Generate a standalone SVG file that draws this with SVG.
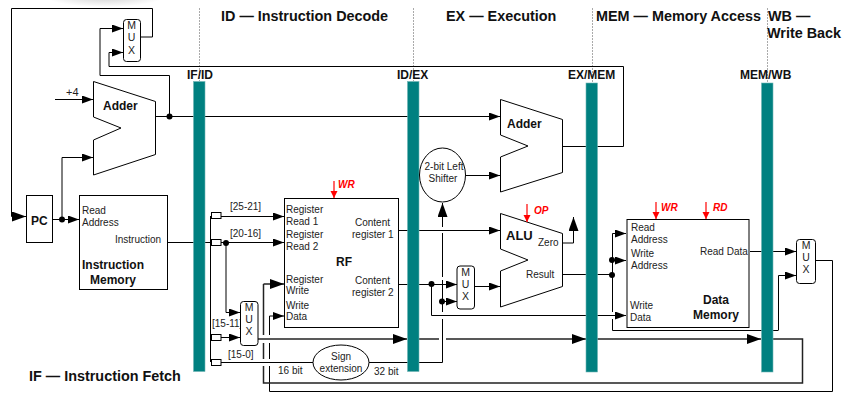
<svg xmlns="http://www.w3.org/2000/svg" width="854" height="414" viewBox="0 0 854 414">
<defs>
<marker id="a" markerUnits="userSpaceOnUse" markerWidth="12" markerHeight="9" refX="11" refY="4" orient="auto"><path d="M0,0L11,4L0,8z" fill="#000"/></marker>
<marker id="b" markerUnits="userSpaceOnUse" markerWidth="14" markerHeight="11" refX="14" refY="5" orient="auto"><path d="M0,0L14,5L0,10z" fill="#000"/></marker>
<marker id="r" markerUnits="userSpaceOnUse" markerWidth="8" markerHeight="8" refX="7" refY="3.5" orient="auto"><path d="M0,0L7,3.5L0,7z" fill="#f00"/></marker>
<radialGradient id="smudge"><stop offset="0" stop-color="#cfcfcf"/><stop offset="1" stop-color="#fff"/></radialGradient>
</defs>
<style>
text{font-family:"Liberation Sans",Arial,sans-serif;font-size:10px;fill:#222}
.t{font-size:14.4px;font-weight:bold;fill:#111}
.b{font-size:12px;font-weight:bold;fill:#111}
.h{font-size:12px;font-weight:bold;fill:#111}
.m{font-size:10.5px;text-anchor:middle}
.c{text-anchor:middle}
.w{font-size:10px;font-weight:bold;font-style:italic;fill:#f00}
.n{fill:#fff;stroke:#000;stroke-width:1}
.bar{fill:#008080;stroke:#6fb5b5;stroke-width:.6}
.l{fill:none;stroke:#000;stroke-width:1}
.k{fill:none;stroke:#222;stroke-width:1.5}
.g{fill:none;stroke:#aaa;stroke-width:1;stroke-dasharray:2 1}
.ar{marker-end:url(#a)}
.ab{marker-end:url(#b)}
.rl{fill:none;stroke:#f00;stroke-width:1.2;marker-end:url(#r)}
</style>
<rect width="854" height="414" fill="#fff"/>
<ellipse cx="105" cy="-4" rx="60" ry="11" fill="url(#smudge)"/>

<g id="stage-labels">
<text class="t" x="221" y="21">ID — Instruction Decode</text>
<text class="t" x="446" y="21">EX — Execution</text>
<text class="t" x="596" y="21">MEM — Memory Access</text>
<text class="t" x="768" y="21">WB —</text>
<text class="t" x="767" y="38">Write Back</text>
<text class="t" x="29" y="381">IF — Instruction Fetch</text>
</g>

<g id="pipeline-guides">
<path class="g" d="M199.500,8V81M413.500,8V81M592.500,8V83M767.500,8V83"/>
</g>

<g id="connectors">
<path class="l" d="M140,37H152.500V8.500H11.500V216.500"/>
<path class="l ab" d="M11.500,216.500H26"/>
<path class="l ar" d="M52,219.500H79"/>
<path class="l ar" d="M62,219V157.500H93"/>
<path class="l ar" d="M55,99.500H93"/>
<path class="l ar" d="M156,116.500H500"/>
<path class="l ar" d="M169.500,116V75.500H100V28.500H123"/>
<path class="l ar" d="M563,146.500H623.500V66.500H109V52.500H123"/>
<path class="l ar" d="M466,175.500H500"/>
<path class="l" d="M167,242.500H211M210.500,216V362"/>
<path class="l ar" d="M221,216.500H284"/>
<path class="l ar" d="M221,242.500H284"/>
<path class="l ar" d="M226,243V312.500H240"/>
<path class="l ar" d="M221,337.500H240"/>
<path class="l" d="M221,362.500H313M369,362.500H442.500V319M442.500,312V280M442.500,277V233M442.500,227V213"/>
<path class="l ab" d="M442.500,214V203"/>
<path class="l ar" d="M398,230.500H500"/>
<path class="l ar" d="M398,284.500H457"/>
<path class="l ar" d="M443,301.500H457"/>
<path class="l ar" d="M474,286.500H500"/>
<path class="l ar" d="M431.500,284V315.500H626"/>
<path class="l" d="M563,243H573.500V228"/>
<path class="l ab" d="M573.500,228V217"/>
<path class="l" d="M563,274.500H612"/>
<path class="l ar" d="M612.500,275V233.500H626"/>
<path class="l ar" d="M612,260.500H626"/>
<path class="l" d="M612.500,275V312M612.500,319V330.500H778"/>
<path class="l ar" d="M778.500,330.500V275.500H796"/>
<path class="l ar" d="M750,251.500H796"/>
<path class="l" d="M816,260.500H832.500V391.500H269.500V366M269.500,359V343M269.500,335V316"/>
<path class="l ar" d="M269.500,316H284"/>
<path class="k ab" d="M258,339H407"/>
<path class="k ab" d="M419,339H439M446,339H586"/>
<path class="k ab" d="M597,339H761"/>
<path class="k" d="M773,339H802.500V383H263.500V366M263.500,359V343M263.500,335V284"/>
<path class="k ab" d="M263.500,284H284"/>
<g id="junctions" fill="#000">
<circle cx="62" cy="219.500" r="3"/>
<circle cx="169.500" cy="116.500" r="3"/>
<circle cx="226" cy="243" r="3"/>
<circle cx="431.500" cy="284" r="3"/>
<circle cx="442" cy="301.500" r="3"/>
<circle cx="612" cy="260" r="3"/>
<circle cx="612" cy="275" r="3"/>
</g>
</g>

<g id="bar-if-id"><rect class="bar" x="193.500" y="81.500" width="11.500" height="290"/><text class="h" x="187" y="79">IF/ID</text></g>
<g id="bar-id-ex"><rect class="bar" x="407.500" y="81.500" width="11.500" height="290"/><text class="h" x="397" y="79">ID/EX</text></g>
<g id="bar-ex-mem"><rect class="bar" x="586" y="83" width="11.500" height="289"/><text class="h" x="568" y="79">EX/MEM</text></g>
<g id="bar-mem-wb"><rect class="bar" x="761.500" y="83" width="11.500" height="289"/><text class="h" x="740" y="79">MEM/WB</text></g>

<g id="mux-pc"><rect class="n" x="123.500" y="19.500" width="17" height="42" rx="3"/><text class="m" x="131.500" y="29">M</text><text class="m" x="131.500" y="41">U</text><text class="m" x="131.500" y="53.500">X</text></g>
<g id="adder-pc"><path class="n" d="M93.500,81.500L155.500,101.500V154.500L93.500,175V140L121,128L93.500,117z"/><text class="b" x="103" y="110">Adder</text><text x="66" y="96" style="font-size:11px">+4</text></g>
<g id="pc"><rect class="n" x="26.500" y="195.500" width="26" height="47"/><text class="b" x="31" y="225">PC</text></g>
<g id="instruction-memory"><rect class="n" x="79.500" y="195.500" width="88" height="94"/><text x="82" y="214">Read</text><text x="82" y="226">Address</text><text x="115" y="243">Instruction</text><text class="b" x="82" y="269">Instruction</text><text class="b" x="90" y="284">Memory</text></g>

<g id="splitters">
<rect class="n" x="211.500" y="212.500" width="9.500" height="6"/>
<rect class="n" x="211.500" y="239.500" width="9.500" height="6"/>
<rect class="n" x="211.500" y="334.500" width="9.500" height="6"/>
<rect class="n" x="211.500" y="359.500" width="9.500" height="6"/>
<text x="230" y="210">[25-21]</text>
<text x="230" y="237">[20-16]</text>
<text x="212" y="327">[15-11]</text>
<text x="228" y="358">[15-0]</text>
<text x="278" y="374">16 bit</text>
<text x="374" y="375">32 bit</text>
</g>

<g id="mux-regdst"><rect class="n" x="240.500" y="301.500" width="17.500" height="44" rx="3"/><text class="m" x="249" y="311">M</text><text class="m" x="249" y="323">U</text><text class="m" x="249" y="335">X</text></g>
<g id="rf"><rect class="n" x="284.500" y="198.500" width="114" height="129"/>
<text x="286" y="213">Register</text><text x="286" y="225">Read 1</text><text x="286" y="238">Register</text><text x="286" y="250">Read 2</text><text x="286" y="283">Register</text><text x="286" y="294">Write</text><text x="286" y="309">Write</text><text x="286" y="320">Data</text>
<text x="355" y="226">Content</text><text x="352" y="238">register 1</text><text x="355" y="284">Content</text><text x="352" y="296">register 2</text>
<text class="b" x="336" y="266">RF</text>
<path class="rl" d="M334,181V198"/><text class="w" x="338" y="188">WR</text></g>
<g id="sign-extension"><ellipse class="n" cx="341" cy="362.500" rx="28" ry="17.500"/><text class="c" x="341" y="360">Sign</text><text class="c" x="341" y="372">extension</text></g>
<g id="adder-branch"><path class="n" d="M500.500,99.500L562.500,119.500V172.500L500.500,192V157L528,146L500.500,135z"/><text class="b" x="507" y="128">Adder</text></g>
<g id="shifter"><ellipse class="n" cx="442.500" cy="175" rx="23" ry="27"/><text class="c" x="444" y="170">2-bit Left</text><text class="c" x="443" y="182">Shifter</text></g>
<g id="mux-alu"><rect class="n" x="457" y="266" width="17.500" height="43" rx="3"/><text class="m" x="465.500" y="276">M</text><text class="m" x="465.500" y="288">U</text><text class="m" x="465.500" y="300">X</text></g>
<g id="alu"><path class="n" d="M500.500,213.500L562.500,233.500V286.500L500.500,307V271L528,260L500.500,249z"/><text class="b" x="506" y="240" style="font-size:13px">ALU</text><text x="538" y="246">Zero</text><text x="526" y="278">Result</text>
<path class="rl" d="M527,204V222"/><text class="w" x="534" y="214">OP</text></g>
<g id="data-memory"><rect class="n" x="627" y="219.500" width="122" height="108"/>
<text x="631" y="231">Read</text><text x="631" y="243">Address</text><text x="631" y="257">Write</text><text x="631" y="269">Address</text><text x="630" y="309">Write</text><text x="630" y="321">Data</text><text x="700" y="255">Read Data</text>
<text class="b c" x="716" y="304">Data</text><text class="b c" x="716" y="319">Memory</text>
<path class="rl" d="M656,202V219"/><text class="w" x="661" y="211">WR</text><path class="rl" d="M706,202V219"/><text class="w" x="713" y="211">RD</text></g>
<g id="mux-wb"><rect class="n" x="796.500" y="239.500" width="19" height="44" rx="3"/><text class="m" x="806" y="249">M</text><text class="m" x="806" y="261">U</text><text class="m" x="806" y="273">X</text></g>
</svg>
